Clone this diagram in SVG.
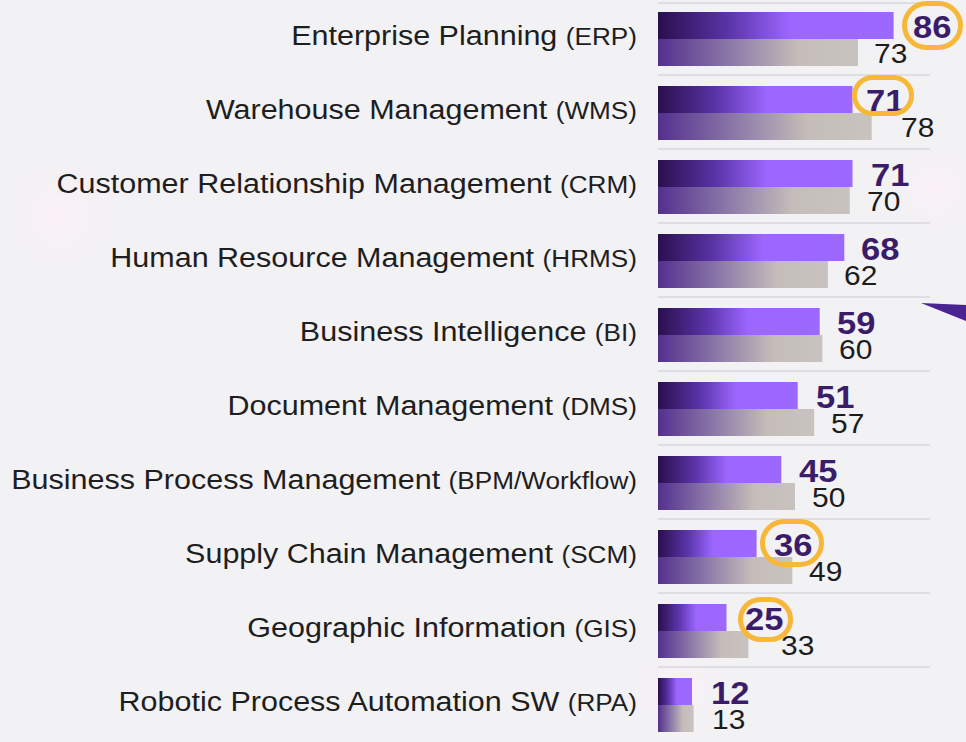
<svg xmlns="http://www.w3.org/2000/svg" width="966" height="742" viewBox="0 0 966 742">
<style>
.lbl{font-family:"Liberation Sans",Arial,sans-serif;fill:#1e1e1e;text-anchor:end}
.big{font-size:28px}
.sm{font-size:24px}
.v1{font-family:"Liberation Sans",Arial,sans-serif;font-weight:bold;font-size:32px;fill:#3a1c69}
.v2{font-family:"Liberation Sans",Arial,sans-serif;font-size:28px;fill:#1c1c1c}
.pb{fill:url(#gp)}
.gb{fill:url(#gg)}
.sep{stroke:#d9d7dc;stroke-width:1.5}
.hl{fill:none;stroke:#f7b839;stroke-width:5}
</style>
<defs>
<linearGradient id="gp" x1="0" y1="0" x2="1" y2="0">
<stop offset="0" stop-color="#2a0f4e"/>
<stop offset="0.3" stop-color="#5a34a8"/>
<stop offset="0.56" stop-color="#9c66ff"/>
<stop offset="1" stop-color="#9d68ff"/>
</linearGradient>
<linearGradient id="gg" x1="0" y1="0" x2="1" y2="0">
<stop offset="0" stop-color="#53308e"/>
<stop offset="0.35" stop-color="#8a76a8"/>
<stop offset="0.7" stop-color="#c4bdb9"/>
<stop offset="1" stop-color="#c9c3bf"/>
</linearGradient>
<radialGradient id="blob">
<stop offset="0" stop-color="#fbf1f6"/>
<stop offset="1" stop-color="#f2f1f4" stop-opacity="0"/>
</radialGradient>
</defs>
<rect width="966" height="742" fill="#f2f1f4"/>
<circle cx="60" cy="215" r="75" fill="url(#blob)"/>
<circle cx="935" cy="190" r="60" fill="url(#blob)"/>
<circle cx="680" cy="690" r="60" fill="url(#blob)"/>
<polygon points="921,303 966,305 966,321" fill="#4b2494"/>
<g id="connectors">
<line class="sep" x1="658" y1="3" x2="930" y2="3"/>
<line class="sep" x1="658" y1="75" x2="930" y2="75"/>
<line class="sep" x1="658" y1="149" x2="930" y2="149"/>
<line class="sep" x1="658" y1="223" x2="930" y2="223"/>
<line class="sep" x1="658" y1="297" x2="930" y2="297"/>
<line class="sep" x1="658" y1="371" x2="930" y2="371"/>
<line class="sep" x1="658" y1="445" x2="930" y2="445"/>
<line class="sep" x1="658" y1="519" x2="930" y2="519"/>
<line class="sep" x1="658" y1="593" x2="930" y2="593"/>
<line class="sep" x1="658" y1="667" x2="930" y2="667"/>
</g>
<g id="row-erp">
<text class="lbl" transform="translate(637,45) scale(1.09,1)"><tspan class="big">Enterprise Planning </tspan><tspan class="sm">(ERP)</tspan></text>
<rect class="pb" x="658" y="12" width="235.6" height="27"/>
<rect class="gb" x="658" y="39" width="200" height="27"/>
<text class="v1" transform="translate(913,38) scale(1.08,1)">86</text>
<text class="v2" transform="translate(874,63) scale(1.07,1)">73</text>
<rect class="hl" x="904.5" y="3.5" width="56" height="44" rx="22"/>
</g>
<g id="row-wms">
<text class="lbl" transform="translate(637,119) scale(1.09,1)"><tspan class="big">Warehouse Management </tspan><tspan class="sm">(WMS)</tspan></text>
<rect class="pb" x="658" y="86" width="194.5" height="27"/>
<rect class="gb" x="658" y="113" width="213.7" height="27"/>
<text class="v1" transform="translate(866,112) scale(1.08,1)">71</text>
<text class="v2" transform="translate(901,137) scale(1.07,1)">78</text>
<rect class="hl" x="854.5" y="77.5" width="57" height="36" rx="18"/>
</g>
<g id="row-crm">
<text class="lbl" transform="translate(637,193) scale(1.09,1)"><tspan class="big">Customer Relationship Management </tspan><tspan class="sm">(CRM)</tspan></text>
<rect class="pb" x="658" y="160" width="194.5" height="27"/>
<rect class="gb" x="658" y="187" width="191.8" height="27"/>
<text class="v1" transform="translate(871,186) scale(1.08,1)">71</text>
<text class="v2" transform="translate(867,211) scale(1.07,1)">70</text>
</g>
<g id="row-hrms">
<text class="lbl" transform="translate(637,267) scale(1.09,1)"><tspan class="big">Human Resource Management </tspan><tspan class="sm">(HRMS)</tspan></text>
<rect class="pb" x="658" y="234" width="186.3" height="27"/>
<rect class="gb" x="658" y="261" width="169.9" height="27"/>
<text class="v1" transform="translate(861,260) scale(1.08,1)">68</text>
<text class="v2" transform="translate(844,285) scale(1.07,1)">62</text>
</g>
<g id="row-bi">
<text class="lbl" transform="translate(637,341) scale(1.09,1)"><tspan class="big">Business Intelligence </tspan><tspan class="sm">(BI)</tspan></text>
<rect class="pb" x="658" y="308" width="161.7" height="27"/>
<rect class="gb" x="658" y="335" width="164.4" height="27"/>
<text class="v1" transform="translate(837,334) scale(1.08,1)">59</text>
<text class="v2" transform="translate(839,359) scale(1.07,1)">60</text>
</g>
<g id="row-dms">
<text class="lbl" transform="translate(637,415) scale(1.09,1)"><tspan class="big">Document Management </tspan><tspan class="sm">(DMS)</tspan></text>
<rect class="pb" x="658" y="382" width="139.7" height="27"/>
<rect class="gb" x="658" y="409" width="156.2" height="27"/>
<text class="v1" transform="translate(816,408) scale(1.08,1)">51</text>
<text class="v2" transform="translate(831,433) scale(1.07,1)">57</text>
</g>
<g id="row-bpm">
<text class="lbl" transform="translate(637,489) scale(1.09,1)"><tspan class="big">Business Process Management </tspan><tspan class="sm">(BPM/Workflow)</tspan></text>
<rect class="pb" x="658" y="456" width="123.3" height="27"/>
<rect class="gb" x="658" y="483" width="137" height="27"/>
<text class="v1" transform="translate(799,482) scale(1.08,1)">45</text>
<text class="v2" transform="translate(812,507) scale(1.07,1)">50</text>
</g>
<g id="row-scm">
<text class="lbl" transform="translate(637,563) scale(1.09,1)"><tspan class="big">Supply Chain Management </tspan><tspan class="sm">(SCM)</tspan></text>
<rect class="pb" x="658" y="530" width="98.6" height="27"/>
<rect class="gb" x="658" y="557" width="134.3" height="27"/>
<text class="v1" transform="translate(774,556) scale(1.08,1)">36</text>
<text class="v2" transform="translate(809,581) scale(1.07,1)">49</text>
<rect class="hl" x="762.5" y="521.5" width="59" height="43" rx="21.5"/>
</g>
<g id="row-gis">
<text class="lbl" transform="translate(637,637) scale(1.09,1)"><tspan class="big">Geographic Information </tspan><tspan class="sm">(GIS)</tspan></text>
<rect class="pb" x="658" y="604" width="68.5" height="27"/>
<rect class="gb" x="658" y="631" width="90.4" height="27"/>
<text class="v1" transform="translate(745,630) scale(1.08,1)">25</text>
<text class="v2" transform="translate(781,655) scale(1.07,1)">33</text>
<rect class="hl" x="740.5" y="599.5" width="50" height="40" rx="20"/>
</g>
<g id="row-rpa">
<text class="lbl" transform="translate(637,711) scale(1.09,1)"><tspan class="big">Robotic Process Automation SW </tspan><tspan class="sm">(RPA)</tspan></text>
<rect class="pb" x="658" y="678" width="34" height="27"/>
<rect class="gb" x="658" y="705" width="35.6" height="27"/>
<text class="v1" transform="translate(711,704) scale(1.08,1)">12</text>
<text class="v2" transform="translate(712,729) scale(1.07,1)">13</text>
</g>
</svg>
